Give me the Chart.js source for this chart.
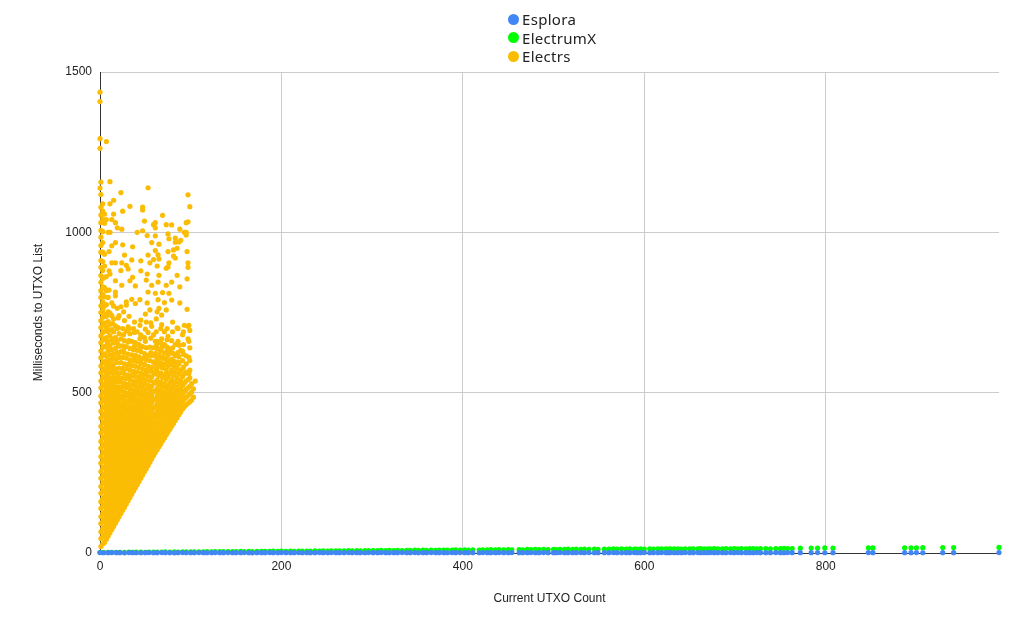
<!DOCTYPE html>
<html>
<head>
<meta charset="utf-8">
<script src="https://cdn.jsdelivr.net/npm/chart.js@4.4.0/dist/chart.umd.min.js"></script>
<style>
  body { margin: 0; background: #fff; }
  #wrap { position: relative; width: 1032px; height: 638px; }
  #legend { position: absolute; left: 508px; top: 10px; font-family: "Noto Sans", sans-serif; font-size: 15px; color: #222; letter-spacing: 0.3px; }
  .item { display: flex; align-items: center; height: 18.5px; }
  .dot { width: 11px; height: 11px; border-radius: 50%; margin-right: 3px; }
</style>
</head>
<body>
<div id="wrap">
  <canvas id="myChart" width="1032" height="638"></canvas>
  <div id="legend"></div>
</div>
<script>
// series names / colours
const seriesNames = ['Esplora', 'ElectrumX', 'Electrs'];
const seriesColors = ['#4285f4', '#00ff00', '#fbbc04'];

// axis ticks
const xTicks = [0, 200, 400, 600, 800];
const yTicks = [0, 500, 1000, 1500];

// utxo counts shared by Esplora and ElectrumX
const utxoCounts = [
  0,4,9,13,18,22,27,32,36,40,
  45,50,54,59,63,68,72,77,82,86,
  91,95,100,104,109,114,118,123,127,132,
  136,141,146,150,155,159,164,168,173,178,
  182,187,191,196,200,205,210,214,219,223,
  228,232,237,242,246,251,255,260,264,269,
  274,278,283,287,292,296,301,306,310,315,
  319,324,328,333,338,342,347,351,356,360,
  365,370,374,379,383,388,392,397,402,406,
  411,418,422,427,431,436,440,445,450,454,
  462,466,471,475,480,484,489,494,500,503,
  507,512,516,521,525,530,534,539,545,549,
  556,561,566,570,575,580,584,589,
  592,596,600,606,610,615,619,624,627,629,
  633,637,641,645,650,654,659,662,666,670,
  673,677,681,686,690,695,699,703,707,712,
  716,720,724,728,734,739,745,750,754,758,
  763,772,784,791,799,808,847,852,887,894,
  900,907,929,941,991
];

const esploraMs = [
  1.2,0.8,1.0,1.4,0.9,1.1,0.7,1.3,1.0,0.8,
  1.1,0.9,1.2,0.8,1.0,1.3,0.9,1.1,0.7,1.0,
  1.2,0.8,1.0,0.9,1.3,1.1,0.8,1.0,1.2,0.9,
  1.0,1.3,0.8,1.1,0.9,1.2,1.0,0.7,1.1,1.0,
  0.9,1.2,1.0,0.8,1.3,1.0,0.9,1.1,1.2,0.8,
  1.0,1.1,0.9,1.3,1.0,0.8,1.2,1.0,0.9,1.1,
  1.2,0.9,1.0,1.1,0.8,1.3,1.0,0.9,1.2,1.0,
  0.8,1.1,1.0,1.2,0.9,1.0,1.3,0.8,1.1,1.0,
  1.2,0.9,1.0,1.1,0.8,1.2,1.0,1.3,0.9,1.0,
  1.1,0.8,1.2,1.0,0.9,1.1,1.3,1.0,0.8,1.2,
  1.0,0.9,1.1,1.2,0.8,1.0,1.3,0.9,1.1,1.0,
  1.2,0.8,1.0,1.1,0.9,1.3,1.0,1.2,0.8,1.0,
  1.1,0.9,1.2,1.0,0.8,1.1,1.0,1.3,
  1.0,0.9,1.2,0.8,1.1,1.0,1.3,0.9,1.0,1.2,
  0.8,1.1,1.0,1.2,0.9,1.0,1.3,0.8,1.1,1.0,
  1.2,0.9,1.0,1.1,0.8,1.2,1.0,1.3,0.9,1.0,
  1.1,0.8,1.2,1.0,0.9,1.1,1.3,1.0,0.8,1.2,
  1.0,0.9,1.1,1.2,0.8,1.0,1.3,0.9,1.1,1.0,
  1.2,0.8,1.0,1.1,1.4
];

const electrumxMs = [
  1.6,1.9,1.7,2.1,2.0,2.3,2.1,2.5,2.2,2.6,
  2.7,2.4,2.9,2.6,3.1,2.8,3.2,3.0,3.4,3.1,
  3.5,3.3,3.8,3.4,3.9,3.6,4.1,3.8,4.3,4.0,
  4.4,4.1,4.7,4.3,4.9,4.5,5.0,4.6,5.2,4.8,
  5.4,5.0,5.6,5.2,5.8,5.3,6.0,5.5,6.1,5.7,
  6.3,5.9,6.5,6.0,6.7,6.2,6.9,6.4,7.0,6.6,
  7.2,6.8,7.4,6.9,7.6,7.1,7.8,7.3,8.0,7.4,
  8.1,7.6,8.3,7.8,8.5,8.0,8.7,8.1,8.9,8.3,
  9.0,8.5,9.2,8.7,9.4,8.8,9.6,9.0,9.8,9.2,
  9.9,9.3,10.1,9.5,10.3,9.7,10.4,9.9,10.6,10.0,
  10.8,10.2,11.0,10.3,11.2,10.5,11.3,10.7,11.5,10.9,
  11.6,11.0,11.8,11.2,12.0,11.3,12.1,11.5,12.3,11.7,
  12.4,11.8,12.6,12.0,12.8,12.1,12.9,12.3,
  12.5,13.0,12.2,12.8,12.4,13.1,12.6,12.9,12.3,13.2,
  12.7,13.0,12.5,13.3,12.8,13.1,12.6,13.4,12.9,13.2,
  13.0,13.5,12.8,13.3,13.6,13.1,13.4,12.9,13.7,13.2,
  13.5,13.8,13.1,13.6,13.9,13.3,14.0,13.6,14.2,13.8,
  14.1,15.2,15.6,15.3,15.8,15.5,16.2,15.9,16.4,16.0,
  16.3,16.6,16.9,17.2,17.5
];

// Electrs: [utxo count, [milliseconds...]]
const electrsByCount = [
  [0, [1437,1408,1292,1262,1138]],
  [1, [20,45,66,92,113,139,160,186,207,233,254,280,301,327,348,374,395,421,442,468,489,515,536,562,583,609,630,656,677,703,724,750,771,797,818,844,865,891,912,938,959,985,1006,1030,1054,1078,1118,1157]],
  [3, [28,51,76,98,123,146,170,193,218,240,265,287,312,335,359,382,406,429,453,476,500,523,547,570,594,617,641,664,688,711,735,758,783,806,830,856,881,909,938,968,1002,1042,1066,1089]],
  [5, [33,57,80,104,127,151,174,198,221,245,268,292,315,339,362,386,409,433,456,480,503,527,550,574,597,621,644,668,692,717,744,770,799,828,860,895,932,1028,1057]],
  [7, [43,66,90,113,137,160,184,207,231,254,278,301,325,348,372,395,419,442,466,489,513,537,562,588,614,643,672,705,738,775,818,862,1040,1283]],
  [8, [512,560,601,655,700,742]],
  [9, [53,76,100,123,147,170,194,217,241,264,288,311,335,358,382,405,429,452,476,499,523,548,575,602,631,659,690,722,752,797,1000]],
  [10, [820,880,940]],
  [11, [63,86,110,133,157,180,204,227,251,274,298,321,345,368,392,415,439,462,486,510,535,561,589,618,647,678,713,748,870,1000,1089,1158]],
  [13, [73,96,120,143,167,190,214,237,261,284,308,331,355,378,402,425,449,472,496,520,546,574,604,634,666,697,740,780,905,958,1040]],
  [14, [530,585,612,668,715]],
  [15, [83,106,130,153,177,200,224,247,271,294,318,341,365,388,412,435,459,482,507,532,560,590,621,655,690,730,770,1057,1100]],
  [17, [93,116,140,163,187,210,234,257,281,304,328,351,375,398,422,445,469,493,518,545,574,606,638,672,708,802,814,849,905,968,1030]],
  [19, [103,126,150,173,197,220,244,267,291,314,338,361,385,408,432,456,481,506,533,562,594,626,662,700,763,1014]],
  [20, [498,552,620,650,703,733]],
  [21, [113,136,160,183,207,230,254,277,301,324,348,371,395,419,443,467,492,518,546,577,610,645,684,740]],
  [23, [123,146,170,193,217,240,264,287,311,334,358,382,406,430,455,480,506,533,562,594,628,668,768,881,1124]],
  [24, [835,905,1010]],
  [25, [133,156,180,203,227,250,274,297,321,344,368,392,416,440,465,490,517,545,576,610,646,700,961,1066]],
  [26, [520,571,633,681,752]],
  [27, [143,166,190,213,237,260,284,307,331,354,378,402,426,451,476,502,529,558,590,624,662,725,929]],
  [29, [153,176,200,223,247,270,294,317,341,365,389,413,438,463,489,516,544,575,608,644,692,773,783,897]],
  [31, [163,186,210,233,257,280,304,327,351,375,399,423,448,473,499,526,555,586,620,658,705,886]],
  [32, [545,590,662,700,738]],
  [33, [173,196,220,243,267,290,314,337,361,385,409,434,459,485,512,540,570,602,638,684,849,1081]],
  [35, [183,206,230,253,277,300,324,348,372,396,420,445,471,497,524,553,584,618,660,791,914]],
  [36, [860,955]],
  [37, [193,216,240,263,287,310,334,358,382,406,431,456,482,508,536,566,598,634,700]],
  [38, [565,607,645,688,720]],
  [39, [203,226,250,273,297,321,345,369,393,418,443,469,495,522,551,582,616,656,778,833]],
  [41, [213,236,260,283,307,331,355,379,404,429,454,480,507,535,565,597,632,690,1000]],
  [43, [223,246,270,294,318,342,366,390,415,440,466,492,519,548,579,612,650]],
  [44, [535,600,640,668,710,790]],
  [45, [233,256,280,304,328,352,376,401,426,451,477,503,531,560,592,628,680,726,880,911]],
  [47, [243,266,290,314,338,362,387,412,437,463,489,516,544,574,606,644,1005,1070,1079]],
  [49, [253,276,300,324,348,373,398,423,448,474,500,528,557,588,622,672,1035]],
  [50, [560,612,660,698,745]],
  [51, [263,286,310,334,358,383,408,433,459,485,512,540,570,602,640,720,851]],
  [52, [780,870,990]],
  [53, [273,296,320,344,369,394,419,444,470,496,523,552,582,616,688,814,929,1139]],
  [55, [283,306,330,355,380,405,430,456,482,509,537,567,600,642,758,905]],
  [56, [570,625,670,718]],
  [57, [293,316,341,366,391,416,441,467,493,520,549,580,616,707,835,968]],
  [59, [303,326,351,376,401,426,452,478,505,533,563,596,640,680,915,1024]],
  [61, [313,336,360,384,408,432,456,480,504,530,558,590,622,660,810,943,989,1014,1030]],
  [62, [575,612,645,690,730]],
  [63, [322,345,369,393,417,441,465,489,513,539,567,585,600,618,636,660,752,895]],
  [64, [790,845,930]],
  [65, [331,354,378,402,426,450,474,498,524,552,582,618,656,763,866,917,963]],
  [67, [340,363,387,411,435,459,483,507,533,561,594,610,630,655,700]],
  [68, [580,640,668,712,742]],
  [69, [350,373,397,421,445,469,493,519,547,577,610,650,812,1053]],
  [71, [359,382,406,430,454,478,502,528,556,588,606,624,650,690,781]],
  [73, [368,391,415,439,463,487,513,541,571,604,644,758,835,888,1024]],
  [74, [560,598,630,665,700]],
  [75, [377,400,424,448,472,496,522,550,582,600,617,640,676,892,940,995]],
  [76, [810,905,980]],
  [77, [386,409,433,457,481,505,531,559,591,628]],
  [79, [395,418,442,466,490,514,540,570,588,604,625,662,789,845,1023]],
  [80, [565,600,640,690,720]],
  [81, [404,427,451,475,499,525,553,585,622,926,945]],
  [83, [413,436,460,484,508,534,564,580,596,615,650,920,969,982]],
  [85, [422,445,469,493,517,545,577,702,866,950]],
  [86, [560,595,625,660,700]],
  [87, [431,454,478,502,528,558,590,612,648,970]],
  [88, [780,830,1010]],
  [89, [440,463,487,511,537,568,632,975]],
  [91, [449,472,496,522,550,575,600,630,681]],
  [92, [580,620,650,690]],
  [93, [456,480,504,530,558,710,1000]],
  [95, [462,486,510,536,564,590,615,992,1000,1030]],
  [96, [760,855,940]],
  [97, [467,491,515,541,668,707,891,905,1033,1117]],
  [98, [560,610,660,710]],
  [99, [472,496,520,546,570,600,640,694,1080]],
  [101, [477,502,528]],
  [103, [486,512]],
  [105, [536]]
];

const esploraPoints = utxoCounts.map((c, i) => ({ x: c, y: esploraMs[i] }));
const electrumxPoints = utxoCounts.map((c, i) => ({ x: c, y: electrumxMs[i] }));
const electrsPoints = [];
electrsByCount.forEach(([count, list]) => {
  list.forEach(ms => electrsPoints.push({ x: count, y: ms }));
});

// legend (html, stacked like the original)
const legend = document.getElementById('legend');
seriesNames.forEach((name, i) => {
  const row = document.createElement('div');
  row.className = 'item';
  row.innerHTML = '<span class="dot" style="background:' + seriesColors[i] + '"></span><span>' + name + '</span>';
  legend.appendChild(row);
});

Chart.defaults.font.family = '"Liberation Sans", Arial, sans-serif';
Chart.defaults.font.size = 12;
Chart.defaults.color = '#222';

function makeSet(i, data) {
  return {
    label: seriesNames[i],
    data: data,
    backgroundColor: seriesColors[i],
    pointBackgroundColor: seriesColors[i],
    pointBorderWidth: 0,
    pointRadius: 2.6,
    pointHoverRadius: 2.6,
    clip: 4
  };
}

const ctx = document.getElementById('myChart').getContext('2d');
const myChart = new Chart(ctx, {
  type: 'scatter',
  data: {
    datasets: [
      makeSet(0, esploraPoints),
      makeSet(1, electrumxPoints),
      makeSet(2, electrsPoints)
    ]
  },
  options: {
    responsive: false,
    animation: false,
    devicePixelRatio: 1,
    layout: { padding: { top: 72, right: 33, left: 0, bottom: 0 } },
    plugins: {
      legend: { display: false },
      tooltip: { enabled: false }
    },
    scales: {
      x: {
        type: 'linear',
        min: 0,
        max: 991,
        afterBuildTicks: s => { s.ticks = xTicks.map(v => ({ value: v })); },
        afterFit: s => { s.height = 85; },
        ticks: { padding: 6, callback: v => String(v), maxRotation: 0 },
        grid: { color: '#cccccc', drawTicks: false },
        border: { color: '#333333' },
        title: { display: true, text: 'Current UTXO Count', padding: { top: 32, bottom: 32 } }
      },
      y: {
        min: 0,
        max: 1500,
        afterBuildTicks: s => { s.ticks = yTicks.map(v => ({ value: v })); },
        afterFit: s => { s.width = 100; },
        ticks: { padding: 8, callback: v => String(v) },
        grid: { color: '#cccccc', drawTicks: false },
        border: { color: '#333333' },
        title: { display: true, text: 'Milliseconds to UTXO List', padding: { top: 31, bottom: 31 } }
      }
    }
  }
});
</script>
</body>
</html>
